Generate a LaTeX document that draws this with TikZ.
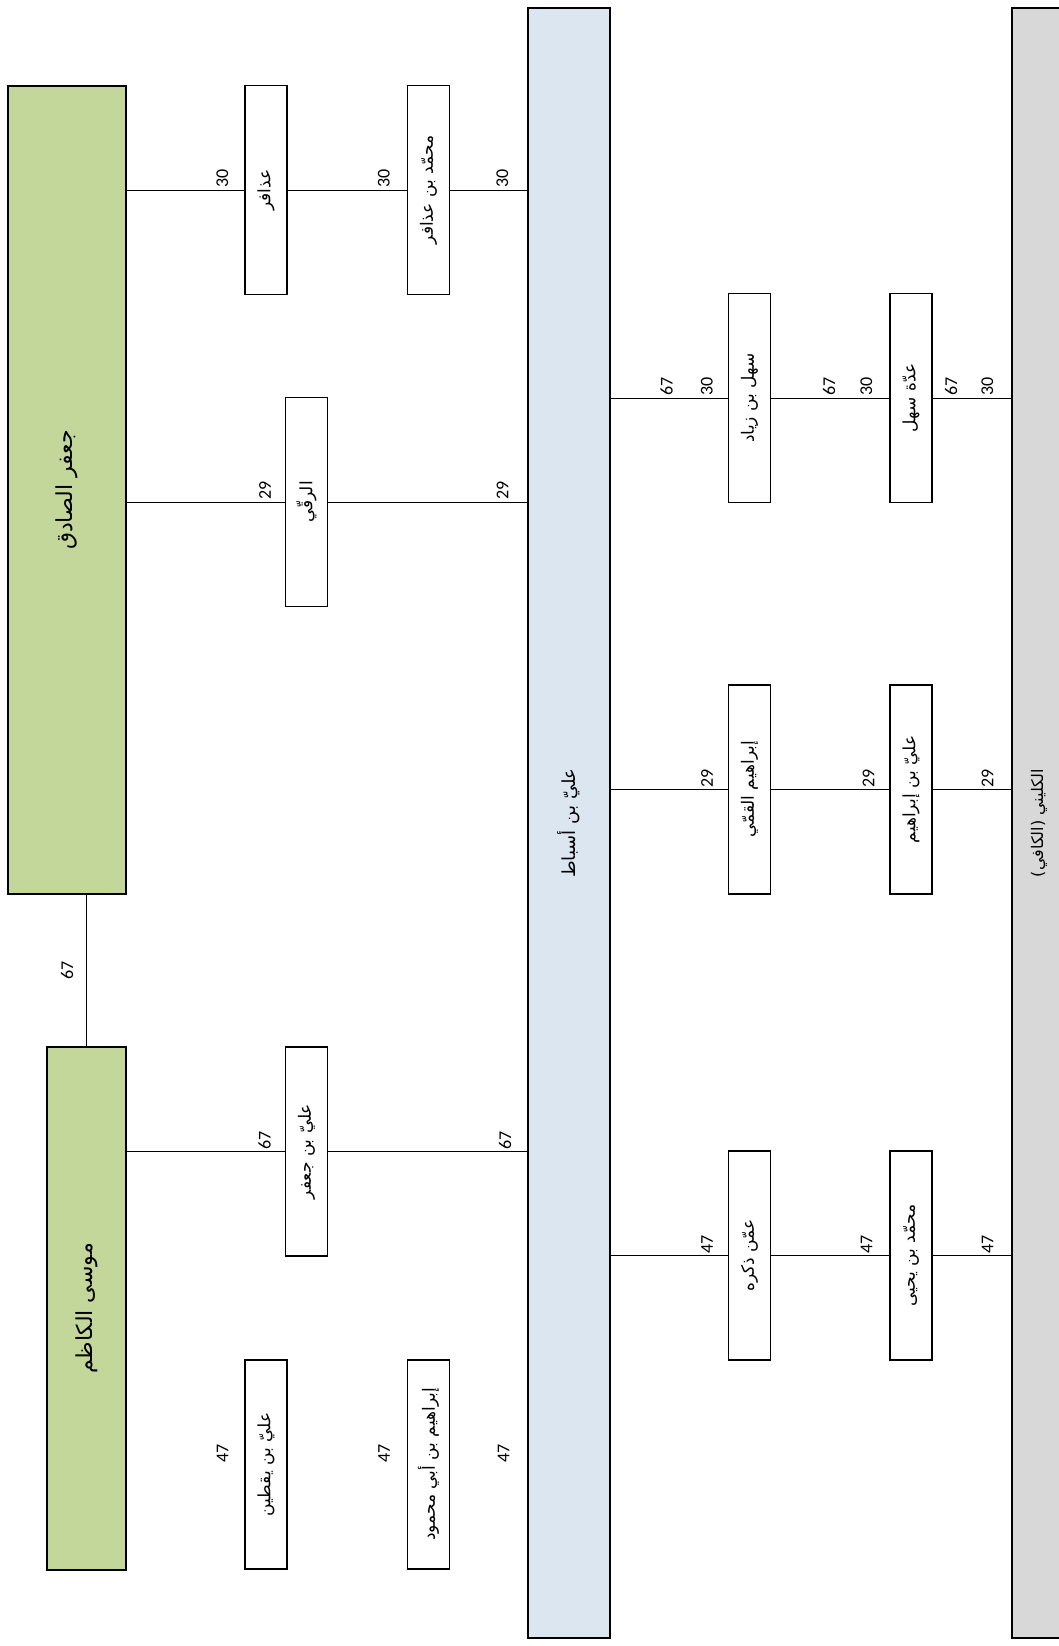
\documentclass[tikz,border=0pt]{standalone}
\usepackage{fontspec}
\setmainfont{Carlito}
\newfontfamily\ar[Script=Arabic]{DejaVu Sans}
\TeXXeTstate=1
\usetikzlibrary{calc}
\definecolor{greenfill}{RGB}{196,215,155}
\definecolor{bluefill}{RGB}{220,230,241}
\definecolor{grayfill}{RGB}{216,216,216}
\newcommand{\artxt}[1]{\rotatebox{90}{\ar\beginR #1\endR}}
\newcommand{\numtxt}[1]{\rotatebox{90}{#1}}
\begin{document}
\begin{tikzpicture}[x=1pt,y=-1pt,
  box/.style={draw=black, line width=1.1pt, inner sep=0pt, font=\fontsize{17}{19}\selectfont},
  namebox/.style={box, fill=white, minimum width=42pt, minimum height=209pt},
  greenbox/.style={box, fill=greenfill, font=\fontsize{22}{24}\selectfont},
  bigbox/.style={box, minimum width=82pt, minimum height=1630pt},
  lbl/.style={inner sep=1pt, font=\fontsize{18}{20}\selectfont, anchor=south east},
  conn/.style={draw=black, line width=0.9pt}]
\useasboundingbox (0,0) rectangle (1059,1646);
% big columns
\node[greenbox, minimum width=118pt, minimum height=808pt] (jafar) at (67,490) {\artxt{جعفر الصادق}};
\node[greenbox, minimum width=79pt, minimum height=523pt] (musa) at (86.5,1308.5) {\artxt{موسى الكاظم}};
\node[bigbox, fill=bluefill, font=\fontsize{18}{20}\selectfont] (blue) at (569,823) {\artxt{عليّ بن أسباط}};
\node[bigbox, fill=grayfill, minimum width=54pt, font=\fontsize{16}{18}\selectfont] (gray) at (1039,823) {\artxt{الكليني (الكافي)}};
% small boxes left
\node[namebox] (udhafir) at (266,190) {\artxt{عذافر}};
\node[namebox] (muhudh) at (428.5,190) {\artxt{محمّد بن عذافر}};
\node[namebox] (raqqi) at (306.5,502) {\artxt{الرقّي}};
\node[namebox] (alij) at (306.5,1151.5) {\artxt{عليّ بن جعفر}};
\node[namebox] (aliy) at (266,1464.5) {\artxt{عليّ بن يقطين}};
\node[namebox] (ibrah) at (428.5,1464.5) {\artxt{إبراهيم بن أبي محمود}};
% small boxes right
\node[namebox] (sahl) at (749.5,398) {\artxt{سهل بن زياد}};
\node[namebox] (idda) at (911,398) {\artxt{عدّة سهل}};
\node[namebox] (qummi) at (749.5,789.5) {\artxt{إبراهيم القمّي}};
\node[namebox] (aliib) at (911,789.5) {\artxt{عليّ بن إبراهيم}};
\node[namebox] (amman) at (749.5,1255.5) {\artxt{عمّن ذكره}};
\node[namebox] (mhy) at (911,1255.5) {\artxt{محمّد بن يحيى}};
% connector end coordinates
\coordinate (j1) at (jafar.east |- udhafir.west);
\coordinate (b1) at (blue.west |- muhudh.east);
\coordinate (j2) at (jafar.east |- raqqi.west);
\coordinate (b2) at (blue.west |- raqqi.east);
\coordinate (m3) at (musa.east |- alij.west);
\coordinate (b3) at (blue.west |- alij.east);
\coordinate (b4) at (blue.west |- ibrah.east);
\coordinate (r1) at (blue.east |- sahl.west);
\coordinate (g1) at (gray.west |- idda.east);
\coordinate (r2) at (blue.east |- qummi.west);
\coordinate (g2) at (gray.west |- aliib.east);
\coordinate (r3) at (blue.east |- amman.west);
\coordinate (g3) at (gray.west |- mhy.east);
\coordinate (jm) at (musa.north |- jafar.south);
\coordinate (mjmid) at ($(musa.north)!0.5!(jm)$);
% connectors
\draw[conn] (musa.north) -- (jm);
\draw[conn] (j1) -- (udhafir.west);
\draw[conn] (udhafir.east) -- (muhudh.west);
\draw[conn] (muhudh.east) -- (b1);
\draw[conn] (j2) -- (raqqi.west);
\draw[conn] (raqqi.east) -- (b2);
\draw[conn] (m3) -- (alij.west);
\draw[conn] (alij.east) -- (b3);
\draw[conn] (r1) -- (sahl.west);
\draw[conn] (sahl.east) -- (idda.west);
\draw[conn] (idda.east) -- (g1);
\draw[conn] (r2) -- (qummi.west);
\draw[conn] (qummi.east) -- (aliib.west);
\draw[conn] (aliib.east) -- (g2);
\draw[conn] (r3) -- (amman.west);
\draw[conn] (amman.east) -- (mhy.west);
\draw[conn] (mhy.east) -- (g3);
% labels
\node[lbl, anchor=east] (l0) at ([xshift=-12pt]mjmid) {\numtxt{67}};
\node[lbl] (l1) at ([xshift=-15pt,yshift=1pt]udhafir.west) {\numtxt{30}};
\node[lbl] (l2) at ([xshift=-16pt,yshift=1pt]muhudh.west) {\numtxt{30}};
\node[lbl] (l3) at ([xshift=-18pt,yshift=1pt]b1) {\numtxt{30}};
\node[lbl] (l4) at ([xshift=-13pt,yshift=1pt]raqqi.west) {\numtxt{29}};
\node[lbl] (l5) at ([xshift=-18pt,yshift=1pt]b2) {\numtxt{29}};
\node[lbl] (l6) at ([xshift=-13pt,yshift=1pt]alij.west) {\numtxt{67}};
\node[lbl] (l7) at ([xshift=-15pt,yshift=1pt]b3) {\numtxt{67}};
\node[lbl] (l8) at ([xshift=-15pt,yshift=1pt]aliy.west) {\numtxt{47}};
\node[lbl] (l9) at ([xshift=-16pt,yshift=1pt]ibrah.west) {\numtxt{47}};
\node[lbl] (l10) at ([xshift=-17pt,yshift=1pt]b4) {\numtxt{47}};
\node[lbl] (l11) at ([xshift=-54pt,yshift=1pt]sahl.west) {\numtxt{67}};
\node[lbl] (l12) at ([xshift=-14pt,yshift=1pt]sahl.west) {\numtxt{30}};
\node[lbl] (l13) at ([xshift=-53pt,yshift=1pt]idda.west) {\numtxt{67}};
\node[lbl] (l14) at ([xshift=-16pt,yshift=1pt]idda.west) {\numtxt{30}};
\node[lbl] (l15) at ([xshift=-53pt,yshift=1pt]g1) {\numtxt{67}};
\node[lbl] (l16) at ([xshift=-17pt,yshift=1pt]g1) {\numtxt{30}};
\node[lbl] (l17) at ([xshift=-14pt,yshift=1pt]qummi.west) {\numtxt{29}};
\node[lbl] (l18) at ([xshift=-14pt,yshift=1pt]aliib.west) {\numtxt{29}};
\node[lbl] (l19) at ([xshift=-17pt,yshift=1pt]g2) {\numtxt{29}};
\node[lbl] (l20) at ([xshift=-14pt,yshift=1pt]amman.west) {\numtxt{47}};
\node[lbl] (l21) at ([xshift=-16pt,yshift=1pt]mhy.west) {\numtxt{47}};
\node[lbl] (l22) at ([xshift=-17pt,yshift=1pt]g3) {\numtxt{47}};
\end{tikzpicture}
\end{document}
